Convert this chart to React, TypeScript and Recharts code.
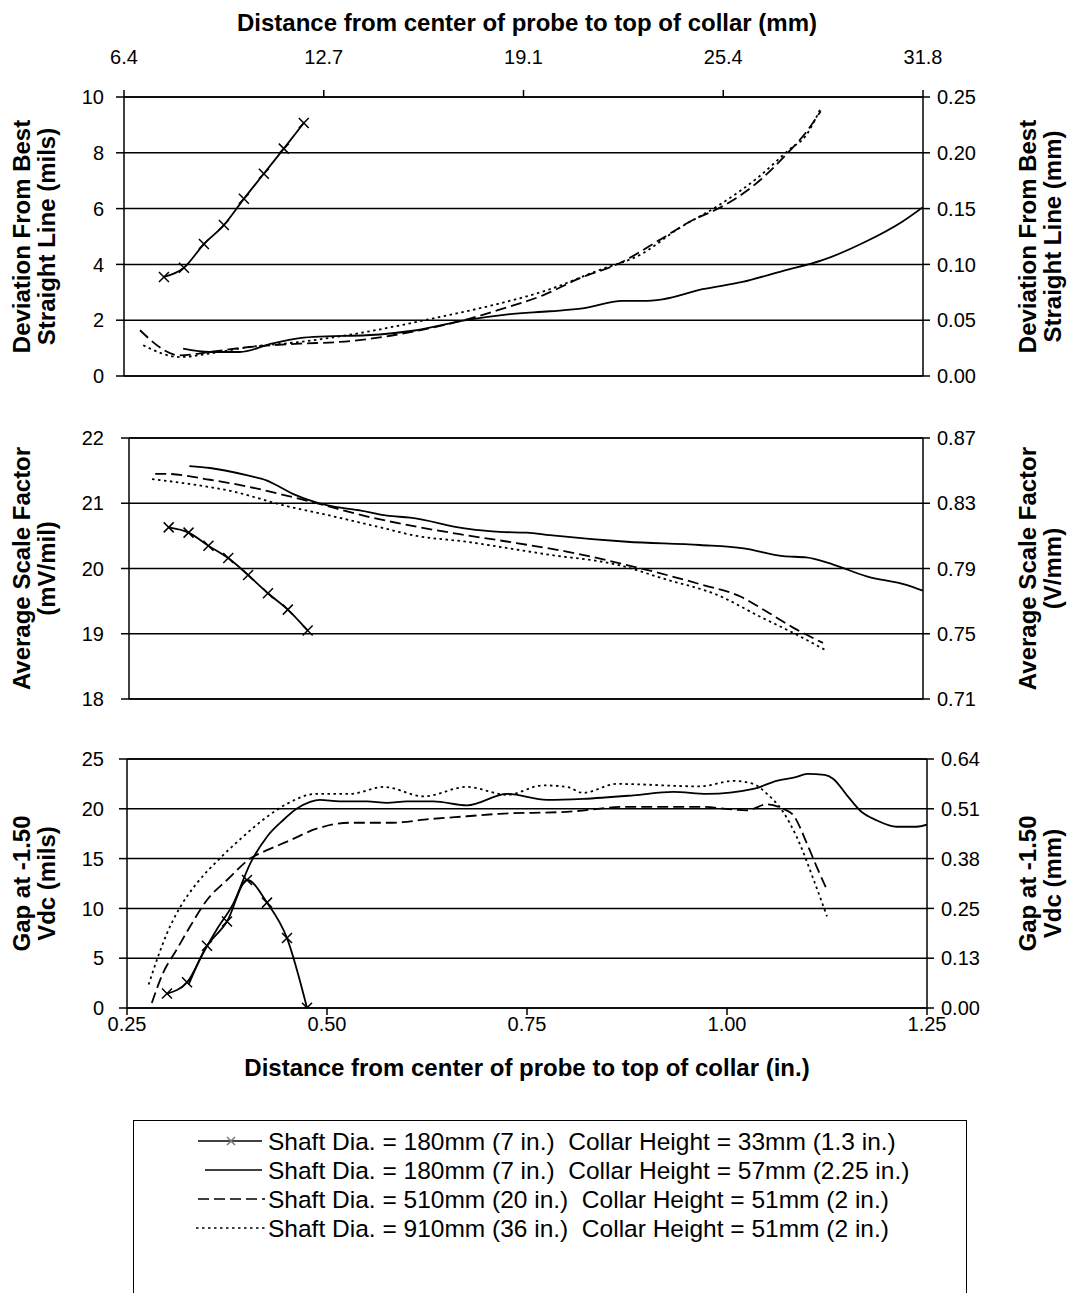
import React from "react";
import { LineChart, Line, XAxis, YAxis, CartesianGrid } from "recharts";

const FONT = '"Liberation Sans", Arial, Helvetica, sans-serif';

// shared x axis (inches) and the mm labels on the top axis
const inchTicks = [0.25, 0.5, 0.75, 1.0, 1.25];
const mmLabels = ["6.4", "12.7", "19.1", "25.4", "31.8"];

// panel 1: deviation from best straight line (mils / mm)
const devTicks = [0, 2, 4, 6, 8, 10];
const devMm = ["0.00", "0.05", "0.10", "0.15", "0.20", "0.25"];
const dev7in33 = [[0.3, 3.55], [0.325, 3.88], [0.35, 4.73], [0.375, 5.41], [0.4, 6.35], [0.425, 7.25], [0.45, 8.15], [0.475, 9.07]];
const dev7in57 = [[0.324, 0.98], [0.357, 0.86], [0.395, 0.86], [0.436, 1.17], [0.47, 1.36], [0.503, 1.42], [0.553, 1.46], [0.616, 1.64], [0.678, 2.0], [0.728, 2.2], [0.783, 2.32], [0.824, 2.42], [0.874, 2.69], [0.899, 2.69], [0.924, 2.75], [0.974, 3.11], [1.024, 3.37], [1.074, 3.76], [1.124, 4.15], [1.178, 4.81], [1.224, 5.53], [1.25, 6.05]];
const dev20in = [[0.27, 1.64], [0.32, 0.74], [0.357, 0.86], [0.407, 1.04], [0.47, 1.16], [0.52, 1.22], [0.574, 1.4], [0.62, 1.64], [0.678, 2.02], [0.72, 2.38], [0.775, 2.9], [0.82, 3.5], [0.87, 4.04], [0.92, 4.87], [0.962, 5.59], [0.995, 6.02], [1.037, 6.8], [1.0825, 8.05], [1.103, 8.71], [1.122, 9.49]];
const dev36in = [[0.274, 1.1], [0.32, 0.68], [0.36, 0.82], [0.407, 1.04], [0.47, 1.22], [0.553, 1.58], [0.636, 2.06], [0.72, 2.6], [0.78, 3.08], [0.845, 3.8], [0.895, 4.33], [0.945, 5.3], [0.995, 6.13], [1.045, 7.15], [1.0825, 8.11], [1.103, 8.6], [1.122, 9.6]];

// panel 2: average scale factor (mV/mil / V/mm)
const sfTicks = [18, 19, 20, 21, 22];
const sfMm = ["0.71", "0.75", "0.79", "0.83", "0.87"];
const sf7in33 = [[0.3, 20.63], [0.325, 20.55], [0.35, 20.35], [0.375, 20.16], [0.4, 19.9], [0.425, 19.62], [0.45, 19.37], [0.475, 19.05]];
const sf7in57 = [[0.326, 21.57], [0.352, 21.54], [0.398, 21.43], [0.423, 21.35], [0.44, 21.25], [0.457, 21.14], [0.474, 21.06], [0.499, 20.97], [0.541, 20.89], [0.575, 20.81], [0.604, 20.78], [0.675, 20.61], [0.717, 20.56], [0.751, 20.55], [0.78, 20.51], [0.877, 20.41], [0.969, 20.36], [1.024, 20.31], [1.074, 20.19], [1.103, 20.17], [1.137, 20.06], [1.179, 19.88], [1.229, 19.75], [1.25, 19.66]];
const sf20in = [[0.283, 21.45], [0.297, 21.45], [0.352, 21.36], [0.402, 21.25], [0.444, 21.13], [0.486, 21.0], [0.549, 20.8], [0.612, 20.64], [0.675, 20.51], [0.738, 20.39], [0.801, 20.26], [0.885, 20.03], [0.969, 19.76], [1.02, 19.57], [1.053, 19.34], [1.087, 19.09], [1.124, 18.86]];
const sf36in = [[0.279, 21.37], [0.318, 21.31], [0.381, 21.18], [0.444, 20.97], [0.507, 20.8], [0.57, 20.62], [0.612, 20.5], [0.675, 20.41], [0.738, 20.29], [0.78, 20.21], [0.864, 20.06], [0.927, 19.83], [0.99, 19.6], [1.045, 19.26], [1.087, 19.01], [1.127, 18.75]];

// panel 3: gap at -1.50 Vdc (mils / mm)
const gapTicks = [0, 5, 10, 15, 20, 25];
const gapMm = ["0.00", "0.13", "0.25", "0.38", "0.51", "0.64"];
const gap7in33 = [[0.3, 1.45], [0.325, 2.58], [0.35, 6.25], [0.375, 8.68], [0.4, 12.85], [0.425, 10.58], [0.45, 7.02], [0.475, 0.02]];
const gap7in57 = [[0.327, 2.35], [0.341, 4.85], [0.362, 7.85], [0.383, 10.5], [0.404, 14.5], [0.425, 17.2], [0.445, 18.85], [0.462, 20.0], [0.479, 20.7], [0.491, 20.9], [0.516, 20.75], [0.55, 20.75], [0.575, 20.6], [0.6, 20.75], [0.633, 20.75], [0.675, 20.35], [0.725, 21.5], [0.775, 20.9], [0.82, 21.0], [0.883, 21.35], [0.933, 21.7], [0.975, 21.5], [1.033, 22.0], [1.062, 22.8], [1.087, 23.2], [1.1, 23.5], [1.122, 23.4], [1.133, 23.0], [1.15, 21.35], [1.168, 19.7], [1.187, 18.85], [1.212, 18.2], [1.237, 18.2], [1.25, 18.4]];
const gap20in = [[0.281, 0.5], [0.295, 3.5], [0.312, 5.85], [0.329, 8.2], [0.35, 10.85], [0.375, 12.85], [0.404, 15.0], [0.425, 15.85], [0.45, 16.7], [0.487, 18.0], [0.529, 18.6], [0.579, 18.6], [0.633, 19.0], [0.675, 19.25], [0.716, 19.5], [0.8, 19.7], [0.875, 20.2], [0.966, 20.2], [1.025, 19.85], [1.05, 20.45], [1.07, 20.0], [1.083, 19.35], [1.1, 16.5], [1.112, 14.2], [1.125, 11.85]];
const gap36in = [[0.277, 2.35], [0.289, 5.2], [0.3, 7.5], [0.317, 10.2], [0.337, 12.5], [0.364, 14.85], [0.395, 17.2], [0.425, 19.2], [0.45, 20.5], [0.487, 21.5], [0.529, 21.5], [0.571, 22.2], [0.621, 21.25], [0.675, 22.2], [0.725, 21.4], [0.77, 22.35], [0.8, 22.2], [0.82, 21.6], [0.862, 22.5], [0.966, 22.25], [1.008, 22.8], [1.033, 22.5], [1.05, 21.5], [1.07, 19.7], [1.087, 17.2], [1.11, 12.5], [1.125, 9.2]];

const legendNames = [
  "Shaft Dia. = 180mm (7 in.)  Collar Height = 33mm (1.3 in.)",
  "Shaft Dia. = 180mm (7 in.)  Collar Height = 57mm (2.25 in.)",
  "Shaft Dia. = 510mm (20 in.)  Collar Height = 51mm (2 in.)",
  "Shaft Dia. = 910mm (36 in.)  Collar Height = 51mm (2 in.)",
];

const toPts = (arr: number[][]) => arr.map(([x, y]) => ({ x, y }));

const TICK = { fill: "#000", fontSize: 20, fontFamily: FONT };
const LINE = { stroke: "#000", strokeWidth: 1.5 };
const TITLE_SIZE = 24;

const XMark = (props: any) => {
  const { cx, cy, index } = props;
  if (cx == null || cy == null) return <g key={"n" + index} />;
  const s = 5;
  return (
    <path
      key={"x" + index}
      d={`M${cx - s},${cy - s}L${cx + s},${cy + s}M${cx - s},${cy + s}L${cx + s},${cy - s}`}
      stroke="#000"
      strokeWidth={1.5}
      fill="none"
    />
  );
};

// two-line rotated axis title, drawn at fixed chart coordinates
const yTitle = (lines: string[], x1: number, x2: number, cy: number) => () => (
  <g>
    {[x1, x2].map((x, i) => (
      <text
        key={i}
        x={x}
        y={cy}
        transform={`rotate(-90 ${x} ${cy})`}
        textAnchor="middle"
        dominantBaseline="central"
        fontFamily={FONT}
        fontWeight="bold"
        fontSize={TITLE_SIZE}
        fill="#000"
      >
        {lines[i]}
      </text>
    ))}
  </g>
);

const xTitle = (text: string, cx: number, cy: number) => () => (
  <text
    x={cx}
    y={cy}
    textAnchor="middle"
    dominantBaseline="central"
    fontFamily={FONT}
    fontWeight="bold"
    fontSize={TITLE_SIZE}
    fill="#000"
  >
    {text}
  </text>
);

type PanelProps = {
  top: number;
  height: number;
  margin: { top: number; right: number; bottom: number; left: number };
  ticks: number[];
  rightLabels: string[];
  series: number[][][];
  leftTitle: string[];
  rightTitle: string[];
  topHeight: number;
  bottomHeight: number;
  showTopLabels?: boolean;
  showBottomLabels?: boolean;
  leftTickMargin: number;
};

function Panel(p: PanelProps) {
  const plotTop = p.margin.top + p.topHeight;
  const plotBottom = p.height - p.margin.bottom - p.bottomHeight;
  const cy = (plotTop + plotBottom) / 2;
  const styles = [
    { dash: undefined, marks: true, axis: 0 },
    { dash: undefined, marks: false, axis: "r" },
    { dash: "11 5", marks: false, axis: 0 },
    { dash: "2.5 3.5", marks: false, axis: 0 },
  ];
  const domain = [p.ticks[0], p.ticks[p.ticks.length - 1]];
  return (
    <div style={{ position: "absolute", left: 0, top: p.top }}>
      <LineChart width={1073} height={p.height} margin={p.margin}>
        <CartesianGrid horizontal vertical={false} stroke="#000" strokeWidth={1.5} />
        <XAxis
          xAxisId="top"
          orientation="top"
          type="number"
          dataKey="x"
          domain={[0.25, 1.25]}
          ticks={inchTicks}
          allowDataOverflow
          height={p.topHeight}
          axisLine={LINE}
          tickLine={LINE}
          tickSize={7}
          tickMargin={p.showTopLabels ? 26 : 0}
          tick={p.showTopLabels ? TICK : false}
          tickFormatter={(v: number) => mmLabels[inchTicks.indexOf(v)]}
          label={
            p.showTopLabels
              ? { content: xTitle("Distance from center of probe to top of collar (mm)", 527, 22) }
              : undefined
          }
        />
        <XAxis
          type="number"
          dataKey="x"
          domain={[0.25, 1.25]}
          ticks={inchTicks}
          allowDataOverflow
          height={p.bottomHeight}
          axisLine={LINE}
          tickLine={LINE}
          tickSize={7}
          tickMargin={2}
          tick={p.showBottomLabels ? TICK : false}
          tickFormatter={(v: number) => v.toFixed(2)}
          label={
            p.showBottomLabels
              ? { content: xTitle("Distance from center of probe to top of collar (in.)", 527, 1067 - 720) }
              : undefined
          }
        />
        <YAxis
          type="number"
          domain={domain}
          ticks={p.ticks}
          interval={0}
          allowDataOverflow
          width={100}
          axisLine={LINE}
          tickLine={LINE}
          tickSize={8}
          tickMargin={p.leftTickMargin}
          tick={TICK}
          label={{ content: yTitle(p.leftTitle, 21, 46, cy) }}
        />
        <YAxis
          yAxisId="r"
          orientation="right"
          type="number"
          domain={domain}
          ticks={p.ticks}
          interval={0}
          allowDataOverflow
          width={100}
          axisLine={LINE}
          tickLine={LINE}
          tickSize={7}
          tickMargin={7}
          tick={TICK}
          tickFormatter={(v: number) => p.rightLabels[p.ticks.indexOf(v)]}
          label={{ content: yTitle(p.rightTitle, 1027, 1052, cy) }}
        />
        {p.series.map((s, i) => (
          <Line
            key={i}
            data={toPts(s)}
            dataKey="y"
            yAxisId={styles[i].axis}
            type="monotone"
            stroke="#000"
            strokeWidth={1.8}
            strokeDasharray={styles[i].dash}
            dot={styles[i].marks ? XMark : false}
            activeDot={false}
            isAnimationActive={false}
          />
        ))}
      </LineChart>
    </div>
  );
}

function LegendBox() {
  const rows = [21, 50, 79, 108];
  return (
    <div
      style={{
        position: "absolute",
        left: 133,
        top: 1120,
        width: 834,
        height: 200,
        border: "1.5px solid #000",
        boxSizing: "border-box",
        background: "#fff",
      }}
    >
      <svg width={834} height={200} style={{ position: "absolute", left: -1.5, top: -1.5 }}>
        <line x1={65} x2={129} y1={rows[0]} y2={rows[0]} stroke="#000" strokeWidth={1.5} />
        <path d={`M94,${rows[0] - 4}L102,${rows[0] + 4}M94,${rows[0] + 4}L102,${rows[0] - 4}`} stroke="#777" strokeWidth={1.5} />
        <line x1={72} x2={129} y1={rows[1]} y2={rows[1]} stroke="#000" strokeWidth={1.5} />
        <line x1={65} x2={132} y1={rows[2]} y2={rows[2]} stroke="#000" strokeWidth={1.5} strokeDasharray="11 5" />
        <line x1={63} x2={132} y1={rows[3]} y2={rows[3]} stroke="#000" strokeWidth={1.5} strokeDasharray="2.5 3.5" />
        {legendNames.map((n, i) => (
          <text
            key={i}
            x={135}
            y={rows[i]}
            dominantBaseline="central"
            fontFamily={FONT}
            fontSize={24.5}
            fill="#000"
            style={{ whiteSpace: "pre" }}
          >
            {n}
          </text>
        ))}
      </svg>
    </div>
  );
}

export default function App() {
  return (
    <div
      style={{
        position: "absolute",
        left: 0,
        top: 0,
        width: 1073,
        height: 1293,
        overflow: "hidden",
        background: "#fff",
        fontFamily: FONT,
      }}
    >
      <Panel
        top={0}
        height={420}
        margin={{ top: 37, right: 50, bottom: 34, left: 24 }}
        ticks={devTicks}
        rightLabels={devMm}
        series={[dev7in33, dev7in57, dev20in, dev36in]}
        leftTitle={["Deviation From Best", "Straight Line (mils)"]}
        rightTitle={["Deviation From Best", "Straight Line (mm)"]}
        topHeight={60}
        bottomHeight={10}
        showTopLabels
        leftTickMargin={12}
      />
      <Panel
        top={400}
        height={330}
        margin={{ top: 30, right: 50, bottom: 21, left: 29 }}
        ticks={sfTicks}
        rightLabels={sfMm}
        series={[sf7in33, sf7in57, sf20in, sf36in]}
        leftTitle={["Average Scale Factor", "(mV/mil)"]}
        rightTitle={["Average Scale Factor", "(V/mm)"]}
        topHeight={8}
        bottomHeight={10}
        leftTickMargin={17}
      />
      <Panel
        top={720}
        height={380}
        margin={{ top: 31, right: 46, bottom: 12, left: 27 }}
        ticks={gapTicks}
        rightLabels={gapMm}
        series={[gap7in33, gap7in57, gap20in, gap36in]}
        leftTitle={["Gap at -1.50", "Vdc (mils)"]}
        rightTitle={["Gap at -1.50", "Vdc (mm)"]}
        topHeight={8}
        bottomHeight={80}
        showBottomLabels
        leftTickMargin={15}
      />
      <LegendBox />
    </div>
  );
}
